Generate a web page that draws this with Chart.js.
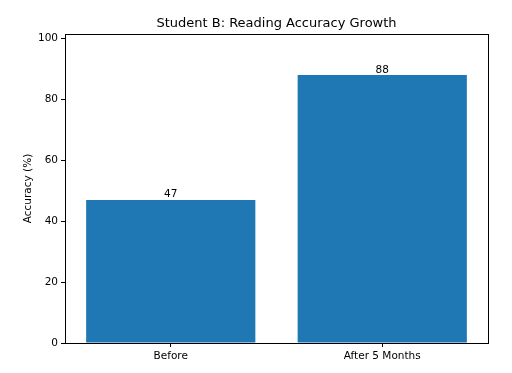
<!DOCTYPE html>
<html>
<head>
<meta charset="utf-8">
<script src="https://cdn.jsdelivr.net/npm/chart.js@4/dist/chart.umd.min.js"></script>
<style>
  html, body { margin: 0; padding: 0; background: #fff; }
  #wrap { width: 512px; height: 373px; }
</style>
</head>
<body>
<div id="wrap"><canvas id="chart" width="512" height="373"></canvas></div>
<script>
// Chart data
const categories = ['Before', 'After 5 Months'];
const accuracy = [47, 88];
const yTicks = [0, 20, 40, 60, 80, 100];

const FONT = 'DejaVu Sans';

// Frame, titles and value labels drawn on top of the chart
const decorPlugin = {
    id: 'decor',
    afterDraw(chart) {
        const ctx = chart.ctx;
        const a = chart.chartArea;
        ctx.save();
        ctx.strokeStyle = '#000';
        ctx.lineWidth = 1;
        ctx.strokeRect(Math.round(a.left) + 0.5, Math.round(a.top) + 0.5,
            Math.round(a.right - a.left), Math.round(a.bottom - a.top));

        ctx.fillStyle = '#000';
        ctx.font = '13px ' + FONT;
        ctx.textAlign = 'center';
        ctx.textBaseline = 'bottom';
        ctx.fillText('Student B: Reading Accuracy Growth', (a.left + a.right) / 2, a.top - 4);

        ctx.font = '10.5px ' + FONT;
        const meta = chart.getDatasetMeta(0);
        meta.data.forEach((bar, i) => {
            ctx.fillText(String(accuracy[i]), bar.x, bar.y);
        });

        // y axis title
        ctx.translate(28, (a.top + a.bottom) / 2);
        ctx.rotate(-Math.PI / 2);
        ctx.textBaseline = 'middle';
        ctx.fillText('Accuracy (%)', 0, 0);
        ctx.restore();
    }
};

new Chart(document.getElementById('chart').getContext('2d'), {
    type: 'bar',
    data: {
        labels: categories,
        datasets: [{
            data: accuracy,
            backgroundColor: '#1f77b4',
            borderWidth: 0,
            barPercentage: 0.8,
            categoryPercentage: 1.0
        }]
    },
    options: {
        responsive: false,
        animation: false,
        layout: { padding: { top: 34, right: 24, left: 0, bottom: 0 } },
        plugins: {
            legend: { display: false },
            tooltip: { enabled: false }
        },
        scales: {
            x: {
                offset: true,
                grid: { display: true, drawOnChartArea: false, offset: false, tickLength: 4, color: '#000' },
                border: { display: false },
                ticks: { color: '#000', font: { family: FONT, size: 10.5 }, padding: 3, maxRotation: 0 },
                afterFit: s => { s.height = 30; }
            },
            y: {
                min: 0,
                max: 101.5,
                afterBuildTicks: s => { s.ticks = yTicks.map(v => ({ value: v })); },
                grid: { display: true, drawOnChartArea: false, tickLength: 4, color: '#000' },
                border: { display: false },
                ticks: { color: '#000', font: { family: FONT, size: 10.5 }, padding: 3 },
                afterFit: s => { s.width = 65; }
            }
        }
    },
    plugins: [decorPlugin]
});
</script>
</body>
</html>
